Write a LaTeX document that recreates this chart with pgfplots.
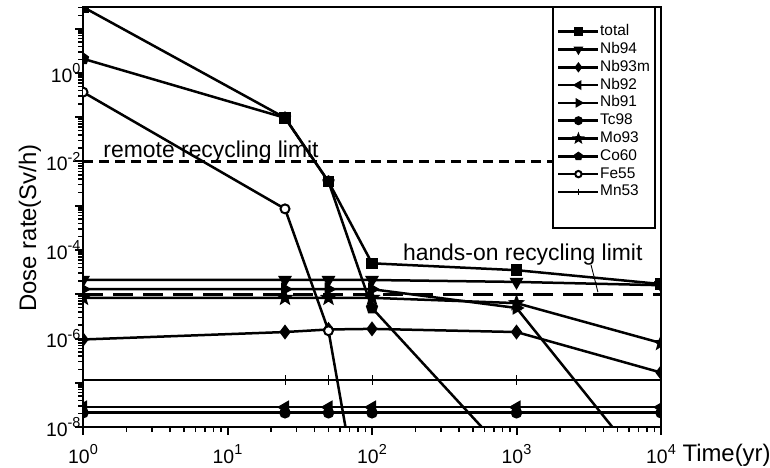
\documentclass[border=0pt]{standalone}
\usepackage{fontspec}
\setmainfont{Liberation Sans}
\usepackage{pgfplots}
\pgfplotsset{compat=1.18}
\newcommand{\tsup}[1]{\raisebox{0.45em}{\fontsize{14.5}{15}\selectfont #1}}
\pgfdeclareplotmark{fstar}{%
  \pgfpathmoveto{\pgfpointpolar{90}{\pgfplotmarksize}}%
  \pgfpathlineto{\pgfpointpolar{126}{0.42\pgfplotmarksize}}%
  \pgfpathlineto{\pgfpointpolar{162}{\pgfplotmarksize}}%
  \pgfpathlineto{\pgfpointpolar{198}{0.42\pgfplotmarksize}}%
  \pgfpathlineto{\pgfpointpolar{234}{\pgfplotmarksize}}%
  \pgfpathlineto{\pgfpointpolar{270}{0.42\pgfplotmarksize}}%
  \pgfpathlineto{\pgfpointpolar{306}{\pgfplotmarksize}}%
  \pgfpathlineto{\pgfpointpolar{342}{0.42\pgfplotmarksize}}%
  \pgfpathlineto{\pgfpointpolar{18}{\pgfplotmarksize}}%
  \pgfpathlineto{\pgfpointpolar{54}{0.42\pgfplotmarksize}}%
  \pgfpathclose
  \pgfusepathqfillstroke}
\begin{document}
\begin{tikzpicture}
\path[use as bounding box] (0,0) rectangle (770bp,468bp);
\begin{axis}[
  at={(83bp,41bp)}, anchor=south west,
  scale only axis, width=578bp, height=420bp,
  xmode=log, ymode=log,
  xmin=1, xmax=1e4, ymin=1e-8, ymax=31,
  axis line style={line width=2.2bp},
  tick align=outside, tick pos=left,
  major tick length=8bp, minor tick length=5bp,
  major tick style={line width=2bp, black},
  minor tick style={line width=1.6bp, black},
  xtick={1,10,100,1000,10000},
  minor xtick={2,3,4,5,6,7,8,9,20,30,40,50,60,70,80,90,200,300,400,500,600,700,800,900,2000,3000,4000,5000,6000,7000,8000,9000},
  xticklabels={10\tsup{0},10\tsup{1},10\tsup{2},10\tsup{3},10\tsup{4}},
  ytick={1e-8,1e-7,1e-6,1e-5,1e-4,1e-3,1e-2,1e-1,1,10},
  minor ytick={2e-8,3e-8,4e-8,5e-8,6e-8,7e-8,8e-8,9e-8,
    2e-7,3e-7,4e-7,5e-7,6e-7,7e-7,8e-7,9e-7,
    2e-6,3e-6,4e-6,5e-6,6e-6,7e-6,8e-6,9e-6,
    2e-5,3e-5,4e-5,5e-5,6e-5,7e-5,8e-5,9e-5,
    2e-4,3e-4,4e-4,5e-4,6e-4,7e-4,8e-4,9e-4,
    2e-3,3e-3,4e-3,5e-3,6e-3,7e-3,8e-3,9e-3,
    0.02,0.03,0.04,0.05,0.06,0.07,0.08,0.09,
    0.2,0.3,0.4,0.5,0.6,0.7,0.8,0.9,
    2,3,4,5,6,7,8,9,20,30},
  yticklabels={10\tsup{-8},{},10\tsup{-6},{},10\tsup{-4},{},10\tsup{-2},{},10\tsup{0},{}},
  ticklabel style={font=\fontsize{19.5}{22}\selectfont},
  xticklabel shift=6bp,
  yticklabel shift=-9bp,
  ylabel={Dose rate(Sv/h)},
  ylabel style={at={(axis description cs:-0.092,0.474)}, anchor=center, font=\fontsize{24}{27}\selectfont},
  xlabel={Time(yr)},
  xlabel style={at={(axis description cs:1,0)}, anchor=base west, xshift=18bp, yshift=-34bp, font=\fontsize{24}{27}\selectfont},
  clip marker paths=true,
  every axis plot/.append style={line width=2.5bp, black},
  legend cell align=left,
  legend style={at={(rel axis cs:0.8131,1)}, anchor=north west, draw=none, fill=none,
    inner xsep=4bp, inner ysep=17bp, row sep=2.8bp, font=\fontsize{15.5}{17}\selectfont,
    nodes={inner sep=0.5bp, text height=11bp, text depth=3bp}},
  legend image code/.code={\draw[mark repeat=2,mark phase=2,line width=2.5bp,#1,mark size=3.2bp] plot coordinates {(0bp,0bp) (20bp,0bp) (40bp,0bp)};},
]
\addplot[forget plot, line width=2.5bp, dash pattern=on 10bp off 6bp] coordinates {(1,1e-2) (1789,1e-2)};
\addplot[forget plot, line width=2.5bp, dash pattern=on 20bp off 10bp] coordinates {(1,1e-5) (1e4,1e-5)};
\node[anchor=base west, font=\fontsize{23}{26}\selectfont] at (axis cs:1.31,1.26e-2) {remote recycling limit};
\node[anchor=base west, font=\fontsize{23}{26}\selectfont] at (axis cs:155,5.9e-5) {hands-on recycling limit};
\draw[line width=0.9bp] (axis cs:3280,4.6e-5) -- (axis cs:3660,1.12e-5);
\draw[line width=1.2bp, fill=white] (rel axis cs:0.8131,1) rectangle (rel axis cs:0.9896,0.4738);

\addplot[mark=square*, mark size=4.5bp] coordinates {(1,31) (25,0.097) (50,3.5e-3) (100,5e-5) (1000,3.5e-5) (10000,1.7e-5)};
\addlegendentry{total}
\addplot[mark=triangle*, mark size=5.5bp, mark options={rotate=180}] coordinates {(1,2.1e-5) (25,2.1e-5) (50,2.1e-5) (100,2.1e-5) (1000,1.9e-5) (10000,1.6e-5)};
\addlegendentry{Nb94}
\addplot[mark=diamond*, mark size=5.5bp] coordinates {(1,9.5e-7) (25,1.4e-6) (50,1.6e-6) (100,1.65e-6) (1000,1.4e-6) (10000,1.7e-7)};
\addlegendentry{Nb93m}
\addplot[mark=triangle*, mark size=5.5bp, mark options={rotate=90}] coordinates {(1,2.8e-8) (25,2.8e-8) (50,2.8e-8) (100,2.8e-8) (1000,2.8e-8) (10000,2.8e-8)};
\addlegendentry{Nb92}
\addplot[mark=triangle*, mark size=5.5bp, mark options={rotate=-90}] coordinates {(1,1.3e-5) (25,1.3e-5) (50,1.3e-5) (100,1.3e-5) (1000,4.9e-6) (10000,4.3e-10)};
\addlegendentry{Nb91}
\addplot[mark=*, mark size=4.5bp] coordinates {(1,2.1e-8) (25,2.1e-8) (50,2.1e-8) (100,2.1e-8) (1000,2.1e-8) (10000,2.1e-8)};
\addlegendentry{Tc98}
\addplot[mark=fstar, mark size=5.5bp] coordinates {(1,8.3e-6) (25,8.3e-6) (50,8.3e-6) (100,8.3e-6) (1000,6.3e-6) (10000,7.9e-7)};
\addlegendentry{Mo93}
\addplot[mark=pentagon*, mark size=5bp] coordinates {(1,2.1) (25,0.097) (50,3.5e-3) (100,4.9e-6) (1000,1.4e-9)};
\addlegendentry{Co60}
\addplot[mark=*, mark size=4.5bp, mark options={fill=white, line width=2bp}] coordinates {(1,0.37) (25,8.5e-4) (50,1.5e-6) (100,4e-12)};
\addlegendentry{Fe55}
\addplot[mark=+, mark size=5bp, mark options={line width=1bp}] coordinates {(1,1.15e-7) (25,1.15e-7) (50,1.15e-7) (100,1.15e-7) (1000,1.15e-7) (10000,1.15e-7)};
\addlegendentry{Mn53}
\end{axis}
\end{tikzpicture}
\end{document}
